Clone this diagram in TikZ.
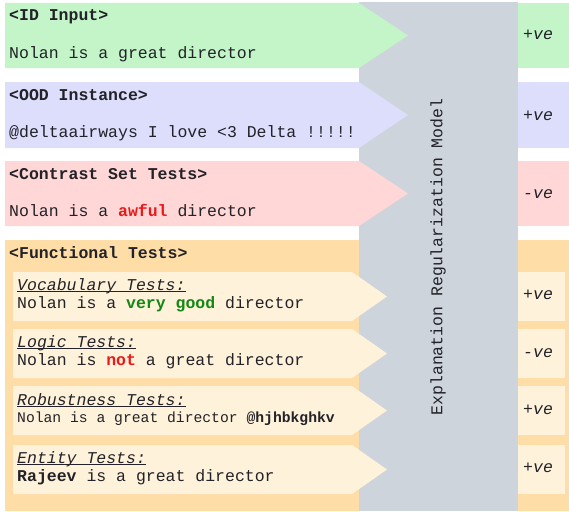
\documentclass[tikz,border=0pt]{standalone}
\usepackage{fontspec}
\setmonofont{Liberation Mono}
\usepackage{tikz}

\definecolor{idgreen}{RGB}{195,245,200}
\definecolor{oodblue}{RGB}{221,222,252}
\definecolor{csred}{RGB}{255,215,215}
\definecolor{ftorange}{RGB}{255,221,167}
\definecolor{ftcream}{RGB}{255,242,218}
\definecolor{modelgray}{RGB}{206,212,219}
\definecolor{textcol}{RGB}{34,34,40}
\definecolor{goodgreen}{RGB}{20,135,20}
\definecolor{badred}{RGB}{235,25,25}

\newcommand{\testname}[1]{\underline{\smash{#1}}}

\begin{document}
\begin{tikzpicture}[x=1pt, y=-1pt,
    txt/.style={anchor=base west, inner sep=0pt, text=textcol,
                font=\ttfamily\fontsize{16.5}{18}\selectfont},
    small/.style={txt, font=\ttfamily\fontsize{14.7}{16}\selectfont},
    pol/.style={txt, font=\ttfamily\itshape\fontsize{16.5}{18}\selectfont}]
                        \useasboundingbox (0,0) rectangle (569,511);

                        % Model column
                        \fill[modelgray] (359,2) rectangle (518,511);
                        \node[txt, anchor=center, rotate=90] (model) at (438,257) {Explanation Regularization Model};

                        % ID input
                        \fill[idgreen] (5,3) -- (359,3) -- (408,35.5) -- (359,68) -- (5,68) -- cycle;
                        \fill[idgreen] (518,3) rectangle (569,68);
                        \node[txt] (idhead) at (9,21) {\bfseries <ID Input>};
                        \node[txt] (idtext) at (9,58) {Nolan is a great director};
                        \node[pol] (idpol) at (523,40) {+ve};

                        % OOD instance
                        \fill[oodblue] (5,82) -- (359,82) -- (408,115) -- (359,148) -- (5,148) -- cycle;
                        \fill[oodblue] (518,82) rectangle (569,148);
                        \node[txt] (oodhead) at (9,100) {\bfseries <OOD Instance>};
                        \node[txt] (oodtext) at (9,137) {@deltaairways I love <3 Delta !!!!!};
                        \node[pol] (oodpol) at (523,120) {+ve};

                        % Contrast set
                        \fill[csred] (5,161) -- (359,161) -- (408,193.5) -- (359,226) -- (5,226) -- cycle;
                        \fill[csred] (518,161) rectangle (569,226);
                        \node[txt] (cshead) at (9,179) {\bfseries <Contrast Set Tests>};
                        \node[txt] (cstext) at (9,216) {Nolan is a \textcolor{badred}{\bfseries awful} director};
                        \node[pol] (cspol) at (523,198) {-ve};

                        % Functional tests
                        \fill[ftorange] (5,240) rectangle (359,511);
                        \fill[ftorange] (518,240) rectangle (569,511);
                        \node[txt] (fthead) at (9,258) {\bfseries <Functional Tests>};

                        % vocabulary
                        \fill[ftcream] (13,272) -- (352,272) -- (387,296.5) -- (352,321) -- (13,321) -- cycle;
                        \fill[ftcream] (518,272) rectangle (565,321);
                        \node[pol] (vocabhead) at (17,290) {\testname{Vocabulary Tests:}};
                        \node[txt] (vocabtext) at (17,308) {Nolan is a \textcolor{goodgreen}{\bfseries very good} director};
                        \node[pol] (vocabpol) at (523,299) {+ve};

                        % logic
                        \fill[ftcream] (13,329) -- (352,329) -- (387,353.5) -- (352,378) -- (13,378) -- cycle;
                        \fill[ftcream] (518,329) rectangle (565,378);
                        \node[pol] (logichead) at (17,347) {\testname{Logic Tests:}};
                        \node[txt] (logictext) at (17,365) {Nolan is \textcolor{badred}{\bfseries not} a great director};
                        \node[pol] (logicpol) at (523,357) {-ve};

                        % robustness
                        \fill[ftcream] (13,386) -- (352,386) -- (387,410.5) -- (352,435) -- (13,435) -- cycle;
                        \fill[ftcream] (518,386) rectangle (565,435);
                        \node[pol] (robhead) at (17,405) {\testname{Robustness Tests:}};
                        \node[small] (robtext) at (17,422) {Nolan is a great director \bfseries @hjhbkghkv};
                        \node[pol] (robpol) at (523,414) {+ve};

                        % entity
                        \fill[ftcream] (13,445) -- (352,445) -- (387,469.5) -- (352,494) -- (13,494) -- cycle;
                        \fill[ftcream] (518,445) rectangle (565,494);
                        \node[pol] (enthead) at (17,463) {\testname{Entity Tests:}};
                        \node[txt] (enttext) at (17,481) {{\bfseries Rajeev} is a great director};
                        \node[pol] (entpol) at (523,472) {+ve};
                    \end{tikzpicture}
\end{document}
